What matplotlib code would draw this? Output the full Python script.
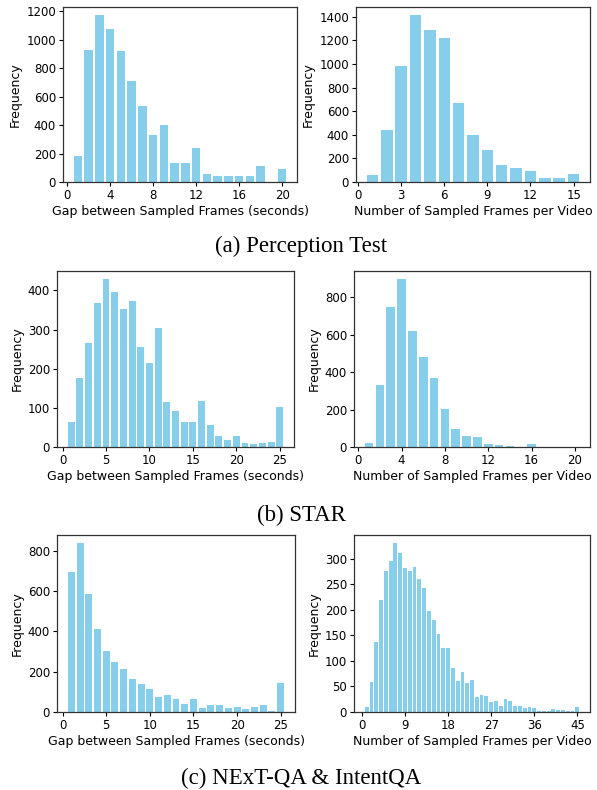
import matplotlib
matplotlib.use("Agg")
import matplotlib.pyplot as plt
from matplotlib.ticker import MultipleLocator

# ---- data ----
pt_gap_x = list(range(1, 21))
pt_gap_y = [185, 930, 1170, 1071, 923, 712, 537, 333, 403, 136,
            136, 241, 54, 45, 45, 45, 45, 115, 0, 94]
pt_num_x = list(range(1, 16))
pt_num_y = [62, 436, 978, 1411, 1284, 1216, 673, 402, 274, 147,
            122, 96, 37, 37, 71]

star_gap_x = list(range(1, 26))
star_gap_y = [64, 177, 265, 367, 428, 395, 352, 372, 255, 214,
              303, 115, 92, 64, 64, 118, 57, 29, 19, 29,
              11, 8, 11, 14, 103]
star_num_x = list(range(1, 21))
star_num_y = [23, 331, 745, 894, 618, 480, 368, 204, 97, 60,
              55, 16, 11, 5, 0, 16, 0, 0, 0, 0]

nq_gap_x = list(range(1, 26))
nq_gap_y = [697, 837, 588, 413, 304, 249, 214, 164, 139, 115,
            75, 85, 65, 40, 65, 20, 35, 35, 20, 25,
            15, 25, 35, 5, 144]
nq_num_x = list(range(1, 46))
nq_num_y = [10, 59, 138, 220, 277, 295, 330, 312, 281, 277,
            283, 261, 242, 198, 181, 153, 126, 126, 86, 61,
            79, 57, 63, 29, 34, 32, 20, 22, 12, 26,
            22, 12, 12, 7, 9, 7, 1, 1, 1, 5,
            3, 3, 1, 1, 10]

captions = ["(a) Perception Test", "(b) STAR", "(c) NExT-QA & IntentQA"]
xlabel_gap = "Gap between Sampled Frames (seconds)"
xlabel_num = "Number of Sampled Frames per Video"
ylabel = "Frequency"

BAR_COLOR = "skyblue"
TICK_FS = 8.5
LABEL_FS = 9.0

W, H = 597, 790
fig = plt.figure(figsize=(W / 100, H / 100), dpi=100)


def axes_px(l, r, t, b):
    return fig.add_axes([l / W, 1 - b / H, (r - l) / W, (b - t) / H])


panels = [
    (axes_px(63, 297, 7, 182), pt_gap_x, pt_gap_y, xlabel_gap, [0, 4, 8, 12, 16, 20], 200),
    (axes_px(356, 590, 7, 182), pt_num_x, pt_num_y, xlabel_num, [0, 3, 6, 9, 12, 15], 200),
    (axes_px(57, 294, 271, 447), star_gap_x, star_gap_y, xlabel_gap, [0, 5, 10, 15, 20, 25], 100),
    (axes_px(354, 590, 271, 447), star_num_x, star_num_y, xlabel_num, [0, 4, 8, 12, 16, 20], 200),
    (axes_px(57, 295, 535, 712), nq_gap_x, nq_gap_y, xlabel_gap, [0, 5, 10, 15, 20, 25], 200),
    (axes_px(354, 590, 535, 712), nq_num_x, nq_num_y, xlabel_num, [0, 9, 18, 27, 36, 45], 50),
]

for ax, xs, ys, xl, xt, ystep in panels:
    ax.bar(xs, ys, color=BAR_COLOR, width=0.8)
    ax.set_xticks(xt)
    ax.yaxis.set_major_locator(MultipleLocator(ystep))
    ax.set_xlabel(xl, fontsize=LABEL_FS, labelpad=2)
    ax.set_ylabel(ylabel, fontsize=LABEL_FS, labelpad=3)
    ax.tick_params(labelsize=TICK_FS, length=3, pad=2)
    for s in ax.spines.values():
        s.set_linewidth(0.9)
        s.set_color("#333333")

cap_y = [252, 521, 784]
for txt, y in zip(captions, cap_y):
    fig.text(0.505, 1 - y / H, txt, ha="center", va="baseline",
             fontsize=16.5, family=["Liberation Serif", "DejaVu Serif"])

fig.savefig("out.png", dpi=100)
